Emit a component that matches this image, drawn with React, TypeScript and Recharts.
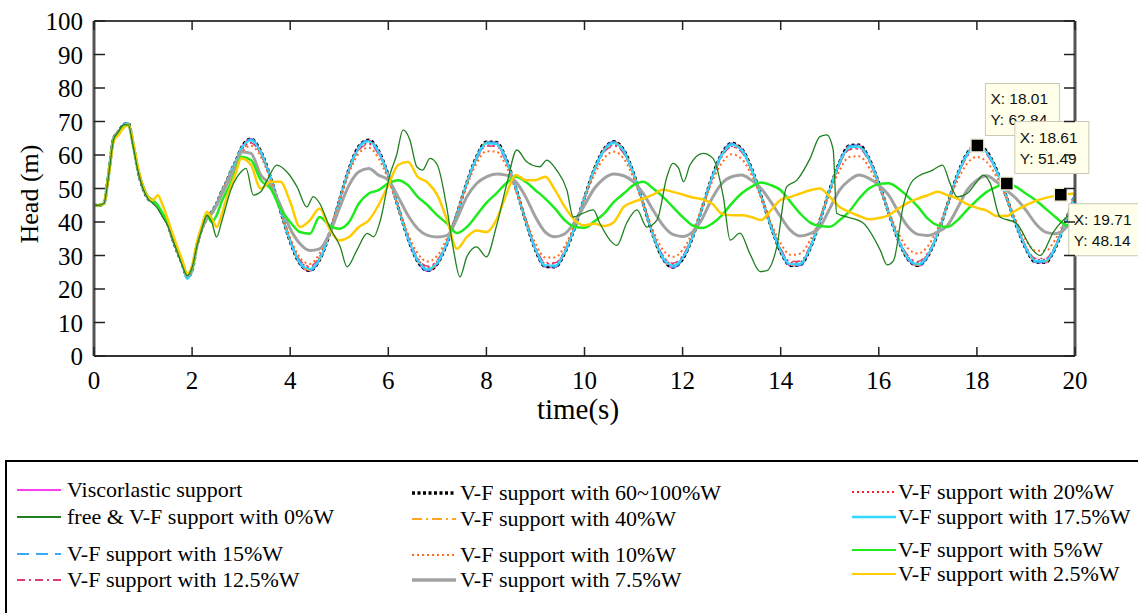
import React from "react";
import { LineChart, Line, XAxis, YAxis, ReferenceDot } from "recharts";

// ---------- data ----------
const time = [0,0.1,0.2,0.3,0.4,0.5,0.6,0.7,0.8,0.9,1,1.1,1.2,1.3,1.4,1.5,1.6,1.7,1.8,1.9,2,2.1,2.2,2.3,2.4,2.5,2.6,2.7,2.8,2.9,
  3,3.2,3.4,3.6,3.8,4,4.2,4.4,4.6,4.8,5,5.2,5.4,5.6,5.8,6,6.2,6.4,6.6,6.8,7,7.2,7.4,7.6,7.8,8,8.2,8.4,8.6,8.8,
  9,9.2,9.4,9.6,9.8,10,10.2,10.4,10.6,10.8,11,11.2,11.4,11.6,11.8,12,12.2,12.4,12.6,12.8,13,13.2,13.4,13.6,13.8,14,14.2,14.4,14.6,14.8,
  15,15.2,15.4,15.6,15.8,16,16.2,16.4,16.6,16.8,17,17.2,17.4,17.6,17.8,18,18.2,18.4,18.6,18.8,19,19.2,19.4,19.6,19.8,20];

const headVisco = [45,45,45.5,54.5,65,67,69,69.5,63,55,50,47,46,44.5,42,39.5,35,31,27.5,23.5,25.5,33,38,41,43,45.5,49,52,55.5,58.5,
  62,64.8,61.1,53.3,43.5,34.1,27.4,25.3,28.6,36.3,46.3,55.9,62.6,64.5,61.3,54,44.5,35.1,28.1,25.3,
  27.4,33.7,42.4,51.7,59.5,63.9,63.8,58.9,50.2,40.3,31.6,26.6,26.4,30.8,38.3,47.3,55.8,61.8,64,61.5,
  54.6,45.3,35.9,28.9,26.3,28.8,35.3,44.3,53.4,60.4,63.5,61.9,56.2,47.8,38.7,31,26.9,27,32.1,40.3,
  49.7,57.9,62.8,63,59,51.7,42.8,34.5,28.7,26.8,29.7,36.4,45.2,54,60.5,63,61.1,55.6,47.6,39.1,32,27.9,27.8,32.3,39.8,48.4];
const head60to100 = [45,45,45.5,54.5,65,67,69,69.5,63,55,50,47,46,44.5,42,39.5,35,31,27.5,23.5,25.5,33,38,41,43,45.5,49,52,55.5,58.5,
  62,64.8,61.1,53.3,43.5,34.1,27.5,25.5,28.7,36.3,46.3,55.9,62.6,64.5,61.3,54,44.5,35.1,28.2,25.5,
  27.5,33.7,42.4,51.7,59.5,63.9,63.8,58.9,50.2,40.3,31.6,26.7,26.6,30.8,38.3,47.3,55.8,61.8,64,61.5,
  54.6,45.3,35.9,29,26.5,28.9,35.3,44.3,53.4,60.4,63.5,61.9,56.2,47.8,38.7,31.1,27,27.2,32.1,40.3,
  49.7,57.9,62.8,63,59,51.7,42.8,34.5,28.8,27,29.8,36.4,45.2,54,60.5,63,61.1,55.6,47.6,39.1,32,28,28,32.3,39.8,48.4];
const head40 = [45,45,45.5,54.5,65,67,69,69.5,63,55,50,47,46,44.5,42,39.5,35,31,27.5,23.5,25.5,33,38,41,43,45.5,49,52,55.5,58.5,
  62,64.6,61.1,53.4,43.6,34.2,27.6,25.6,28.7,36.3,46.3,55.8,62.5,64.3,61.3,54,44.5,35.2,28.3,25.6,
  27.6,33.7,42.4,51.7,59.4,63.7,63.6,58.9,50.2,40.4,31.7,26.8,26.7,30.9,38.3,47.3,55.7,61.7,63.8,61.4,
  54.6,45.3,36,29.1,26.6,29,35.3,44.3,53.3,60.3,63.3,61.8,56.2,47.8,38.8,31.2,27.1,27.3,32.2,40.3,
  49.6,57.8,62.6,62.8,58.9,51.7,42.9,34.6,28.9,27.1,29.9,36.4,45.2,53.9,60.4,62.8,61,55.6,47.6,39.2,32.1,28.1,28.1,32.3,39.8,48.3];
const head20 = [45,45,45.5,54.5,64.8,66.8,68.8,69.2,63,55,50,47,46,44.5,42,39.5,35,31,27.6,23.7,25.6,33,38,41,43,45.5,49,52,55.3,58.3,
  61.2,63.8,60.3,52.9,43.6,34.6,28.4,26.5,29.5,36.7,46.2,55.4,61.7,63.5,60.5,53.6,44.5,35.6,29,26.5,
  28.4,34.3,42.5,51.4,58.8,63,62.9,58.2,49.9,40.5,32.3,27.6,27.5,31.5,38.6,47.2,55.3,61,63,60.7,
  54.1,45.3,36.4,29.8,27.4,29.7,35.8,44.3,53,59.6,62.6,61.1,55.6,47.7,39,31.8,27.9,28.1,32.7,40.5,
  49.5,57.3,61.9,62.1,58.3,51.4,42.9,35,29.6,27.9,30.6,36.8,45.2,53.6,59.7,62.1,60.3,55.1,47.5,39.4,32.6,28.8,28.8,32.9,40.1,48.2];
const head17_5 = [45,45,45.5,54.5,65,67,69,69.5,63,55,50,47,46,44.5,42,39.5,35,31,27.5,23,25.5,33,38,41,43,45.5,49,52,55.5,58.5,
  61.8,64.3,60.8,53.2,43.6,34.4,27.9,26,29,36.5,46.3,55.6,62.1,64,60.9,53.8,44.5,35.3,28.6,26,
  27.9,34,42.4,51.5,59.1,63.4,63.3,58.5,50,40.4,31.9,27.1,27,31.1,38.4,47.2,55.5,61.4,63.5,61.1,
  54.3,45.3,36.1,29.4,27,29.3,35.5,44.3,53.2,60,63,61.5,55.9,47.7,38.8,31.4,27.4,27.6,32.4,40.4,
  49.6,57.6,62.3,62.5,58.6,51.5,42.8,34.7,29.2,27.4,30.2,36.6,45.2,53.8,60.1,62.5,60.7,55.3,47.5,39.2,32.3,28.4,28.4,32.6,39.9,48.3];
const head15 = [45,45,45.5,54.5,65,67,69,69.5,63,55,50,47,46,44.5,42,39.5,35,31,27.5,23.5,25.5,33,38,41,43,45.5,49,52,55.5,58.5,
  62,64.7,61,53.3,43.5,34.1,27.5,25.5,28.7,36.3,46.3,55.9,62.5,64.4,61.2,54,44.5,35.1,28.2,25.5,
  27.5,33.7,42.4,51.7,59.5,63.8,63.7,58.9,50.2,40.3,31.6,26.7,26.6,30.8,38.3,47.3,55.8,61.7,63.9,61.4,
  54.6,45.3,35.9,29,26.5,28.9,35.3,44.3,53.4,60.4,63.4,61.8,56.2,47.8,38.7,31.1,27,27.2,32.1,40.3,
  49.7,57.9,62.7,62.9,59,51.7,42.8,34.5,28.8,27,29.8,36.4,45.2,54,60.4,62.9,61,55.6,47.6,39.1,32,28,28,32.3,39.8,48.4];
const head12_5 = [45,45,45.5,54.5,64.8,66.8,68.8,69.2,63,55,50,47,46,44.5,42,39.5,35,31,27.6,23.7,25.6,33,38,41,43,45.5,49,52,55.3,58.3,
  61,63.6,60.1,52.8,43.6,34.8,28.6,26.8,29.7,36.8,46.1,55.2,61.4,63.2,60.3,53.5,44.5,35.8,29.2,26.8,
  28.6,34.4,42.6,51.3,58.6,62.7,62.6,58,49.8,40.6,32.5,27.9,27.8,31.7,38.7,47.1,55.1,60.8,62.7,60.5,
  54,45.3,36.6,30,27.7,29.9,35.9,44.4,52.8,59.4,62.4,60.9,55.5,47.6,39.1,32,28.2,28.4,32.9,40.6,
  49.4,57.1,61.6,61.8,58.1,51.3,43,35.2,29.9,28.2,30.8,36.9,45.2,53.5,59.5,61.8,60.1,55,47.4,39.6,32.8,29.1,29.1,33.1,40.2,48.1];
const head10 = [45,45,45.5,54.5,64.5,66.5,68.5,69,63,55,50,47,46,44.5,42,39.5,35,31,27.8,24,25.8,33,38,41,43,45.5,48.8,51.8,55,58,
  60.5,62.8,59.5,52.5,43.6,35.2,29.3,27.5,30.7,37.3,46.1,54.6,60.5,62.2,59,52.7,44.6,36.5,30.6,28.2,
  30,35.3,42.8,50.8,57.5,61.1,61,56.8,49.4,41,33.6,29.4,29.4,32.9,39.3,46.9,54.1,59.1,61,58.9,
  53.1,45.3,37.4,31.7,29.6,31.6,36.9,44.5,52,57.6,60.2,58.9,54.2,47.3,39.8,33.6,30.2,30.6,34.6,41.2,
  48.8,55.4,59.4,59.6,56.3,50.4,43.2,36.6,32,30.6,32.8,38.1,45.2,52.2,57.4,59.4,57.9,53.5,47.1,40.3,34.6,31.4,31.4,34.8,40.8,47.7];
const head7_5 = [45,45,45.5,54.5,65,67,68.5,69,63,55.5,50.5,47.5,46.5,44.5,42,39.5,35.5,31.5,28,24,26,33,38,41,42.5,45,48,51,54,57,
  61,60.5,54,51,45,38,33.5,31.5,32,36.5,44,51,55,56,54,52.5,47.5,42,38,36,
  35.5,36,41,47.5,51.5,53.5,54.3,54,52,47.5,41.5,37,35.6,36.5,40,45,50,53,54.3,53.8,
  52,48.5,43.5,39,36.3,35.7,37,41,47,51.5,53.5,54,52.5,50,46,41.5,37.5,35.8,36.5,38.5,
  44,49.5,52.5,54,53,51,48,43,38.5,36.3,36,37,39,44,49.5,52.5,53.8,52,49.5,47,43.5,39.5,37,36.5,38,42];
const head5 = [45,45,45.5,54.5,64.5,66.5,68.5,69,63,55.5,50.5,47.5,46.5,45,42.5,40,36,32,28,24.5,26.5,33.5,38.5,42,40,42,46,49,52,55.5,
  59.5,58.5,52.5,50,44,40,37,36.5,41.5,39,38,40,45.5,48.5,49.5,51.5,52.5,51,47.5,45,
  42,39.5,36.7,38.5,42,45.7,48.5,51.5,53.5,52,49.5,47,44,40.5,38.5,38.3,40.2,42.5,46,48.5,
  51,52,50,47.5,44.5,41.5,39,38.2,39.5,42,45.5,48.5,50.5,51.8,51,49.5,46,42.5,39.8,38.8,
  38.6,40.5,43.2,47,50,51.3,51.6,50,47.5,44.5,41,39,38.5,40.5,43.6,46.5,49,50.5,51.5,50.5,48.5,46.5,44,41.5,39.2,38.5];
const head2_5 = [45,45,45.5,54,64,66,68,69,63.5,56,50.5,47.5,46.5,48,45,41,36.5,32.5,28.5,24.5,27,34,39,43,41,38.5,42,47,51,55,
  59,57,50,52,52,46,38.5,40.5,44,38,34.5,35.5,38.5,40.5,45,51,57,58,53.5,51.8,
  48,40.5,32,35.5,37.5,37,40.5,48,54,52.5,52.5,53.5,49.5,44.5,40.5,39,39.5,38.8,40,44.5,
  46,47,48.2,49.6,49,48.2,47.3,46.8,45.5,42.5,42,42,41.5,40.6,43.5,46.6,47.5,48.5,49.5,50,
  47.5,44.5,43,41.8,40.8,41.2,42,44,45.8,47,48,49,48,47,45.3,44.2,43.4,41.8,41.8,43.5,45,46.3,47.2,47.8,48.2,48.5];

// free & V-F support with 0%W, read at its own turning points
const time0 = [0,0.1,0.2,0.3,0.4,0.5,0.6,0.7,0.8,0.9,1,1.1,1.2,1.3,1.4,1.5,1.6,1.7,1.8,1.9,2,2.1,2.2,2.3,2.4,2.5,2.6,
  2.8,3,3.1,3.25,3.4,3.53,3.73,3.93,4.14,4.34,4.47,4.6,4.8,5.02,5.16,5.36,5.57,5.7,5.84,6.03,6.17,6.3,6.44,6.58,6.7,6.85,
  7,7.19,7.33,7.46,7.6,7.8,8,8.2,8.42,8.62,8.82,9.09,9.23,9.43,9.64,9.77,9.95,10.18,10.31,10.52,10.66,10.86,
  11.07,11.27,11.48,11.68,11.8,11.92,12.02,12.15,12.42,12.62,12.83,12.97,13.17,13.37,13.58,13.72,13.92,
  14.12,14.33,14.6,14.8,14.94,15.07,15.14,15.35,15.68,16.03,16.17,16.3,16.5,16.7,17.1,17.3,17.45,17.6,17.8,
  18,18.13,18.27,18.47,18.8,19.14,19.29,19.56,19.83,20];
const head0 = [45,45,45.5,54,64.5,67,69,69,62.5,55,50,47,45.5,44,41.5,39,35,31,27,24,26.5,33,38,42,40,35.5,40,
  50,55,56,48,49,52.5,57,55,50.5,44.5,47.6,45.6,38.6,32.6,26.6,31.6,36.6,35.6,40.6,54,60,67.5,64.5,56.5,55.5,59,
  57,44.5,31.6,23.6,29.6,32.6,29.6,38.5,51.6,61.5,58,56.5,58.5,55.5,49.6,41.5,42.5,43.6,39.7,34.6,33,39.7,
  43.6,38.5,40.6,53.5,57.5,56,52,57,60.5,59,47.5,34.6,36.7,30.6,25.2,25.5,32.6,
  50.5,52.5,59,65.5,66,61.5,42.6,41.5,39.7,31.6,27.2,28.5,45,52.5,55.5,57,51.6,47.5,48.5,
  52,54,51.6,41.5,39.7,31.6,30,37,41.5,43];

const xTicks = [0, 2, 4, 6, 8, 10, 12, 14, 16, 18, 20];
const yTicks = [0, 10, 20, 30, 40, 50, 60, 70, 80, 90, 100];

const tipX = [18.01, 18.61, 19.71];
const tipY = [62.84, 51.49, 48.14];

const legendLabels = [
  "Viscorlastic support",
  "free & V-F support with 0%W",
  "V-F support with 15%W",
  "V-F support with 12.5%W",
  "V-F support with 60~100%W",
  "V-F support with 40%W",
  "V-F support with 10%W",
  "V-F support with 7.5%W",
  "V-F support with 20%W",
  "V-F support with 17.5%W",
  "V-F support with 5%W",
  "V-F support with 2.5%W",
];

// ---------- styles ----------
type S = { key: string; label: string; t: number[]; v: number[]; color: string; w: number; dash?: string; legendW?: number };

const sv: Record<string, S> = {
  visco: { key: "visco", label: legendLabels[0], t: time, v: headVisco, color: "#FF3CF0", w: 1.6 },
  w0: { key: "w0", label: legendLabels[1], t: time0, v: head0, color: "#1E801E", w: 1.3 },
  w15: { key: "w15", label: legendLabels[2], t: time, v: head15, color: "#3AA8F8", w: 1.8, dash: "12 7" },
  w12: { key: "w12", label: legendLabels[3], t: time, v: head12_5, color: "#E03C74", w: 1.5, dash: "8 4 2 4" },
  w60: { key: "w60", label: legendLabels[4], t: time, v: head60to100, color: "#000000", w: 3, dash: "3 2.5", legendW: 3.5 },
  w40: { key: "w40", label: legendLabels[5], t: time, v: head40, color: "#FFA51E", w: 1.5, dash: "10 4 2 4" },
  w10: { key: "w10", label: legendLabels[6], t: time, v: head10, color: "#FF6A1E", w: 2, dash: "2 3" },
  w7: { key: "w7", label: legendLabels[7], t: time, v: head7_5, color: "#A2A2A2", w: 3, legendW: 3.5 },
  w20: { key: "w20", label: legendLabels[8], t: time, v: head20, color: "#FF1E1E", w: 1.5, dash: "2 3" },
  w17: { key: "w17", label: legendLabels[9], t: time, v: head17_5, color: "#2ED8FF", w: 2, legendW: 2.5 },
  w5: { key: "w5", label: legendLabels[10], t: time, v: head5, color: "#1EEB1E", w: 2.5, legendW: 2 },
  w2: { key: "w2", label: legendLabels[11], t: time, v: head2_5, color: "#FFCC00", w: 2.5, legendW: 2 },
};

const drawOrder = ["visco", "w60", "w40", "w20", "w12", "w15", "w17", "w10", "w7", "w5", "w2", "w0"];

const pts = (t: number[], v: number[]) => t.map((x, i) => ({ t: x, v: v[i] }));

const SERIF = "Liberation Serif, Tinos, Times New Roman, DejaVu Serif, serif";
const SANS = "Liberation Sans, Arimo, Arial, sans-serif";

const LeftTick = (p: any) => (
  <g>
    <line x1={p.x} x2={p.x + 11} y1={p.y} y2={p.y} stroke="#222" strokeWidth={1.5} />
    <text x={p.x - 11} y={p.y} dy="0.36em" textAnchor="end" style={{ fontFamily: SERIF, fontSize: 25 }} fill="#000">
      {p.payload.value}
    </text>
  </g>
);
const RightTick = (p: any) => (
  <line x1={p.x} x2={p.x - 11} y1={p.y} y2={p.y} stroke="#222" strokeWidth={1.5} />
);
const BottomTick = (p: any) => (
  <g>
    <line x1={p.x} x2={p.x} y1={p.y} y2={p.y - 9} stroke="#222" strokeWidth={1.5} />
    <text x={p.x} y={p.y + 33} textAnchor="middle" style={{ fontFamily: SERIF, fontSize: 25 }} fill="#000">
      {p.payload.value}
    </text>
  </g>
);
const TopTick = (p: any) => (
  <line x1={p.x} x2={p.x} y1={p.y} y2={p.y + 9} stroke="#222" strokeWidth={1.5} />
);

const makeTip = (i: number, below: boolean) => (p: any) => {
  const cx = p.cx;
  const cy = p.cy;
  const bx = cx + 8;
  const by = below ? cy + 9 : cy - 62;
  return (
    <g>
      <rect x={cx - 6.5} y={cy - 6.5} width={13} height={13} fill="#000" stroke="#F5F0D8" strokeWidth={1.5} />
      <rect x={bx} y={by} width={74} height={52} fill="#FFFFEA" stroke="#C9C9B5" strokeWidth={1} />
      <text x={bx + 5} y={by + 21} style={{ fontFamily: SANS, fontSize: 15.5 }} fill="#111">{"X: " + tipX[i].toFixed(2)}</text>
      <text x={bx + 5} y={by + 42} style={{ fontFamily: SANS, fontSize: 15.5 }} fill="#111">{"Y: " + tipY[i].toFixed(2)}</text>
    </g>
  );
};

const legendPos: Record<string, { x: number; tx: number; y: number }> = {
  visco: { x: 17, tx: 67, y: 490 },
  w0: { x: 17, tx: 67, y: 517 },
  w15: { x: 17, tx: 67, y: 554 },
  w12: { x: 17, tx: 67, y: 580 },
  w60: { x: 412, tx: 460, y: 493 },
  w40: { x: 412, tx: 460, y: 519 },
  w10: { x: 412, tx: 460, y: 555 },
  w7: { x: 412, tx: 460, y: 580 },
  w20: { x: 852, tx: 898, y: 492 },
  w17: { x: 852, tx: 898, y: 517 },
  w5: { x: 852, tx: 898, y: 550 },
  w2: { x: 852, tx: 898, y: 574 },
};

const legendOrder = ["visco", "w0", "w15", "w12", "w60", "w40", "w10", "w7", "w20", "w17", "w5", "w2"];

export default function App() {
  return (
    <div style={{ position: "absolute", left: 0, top: 0, width: 1138, height: 613, background: "#fff", overflow: "hidden", fontFamily: SERIF }}>
      <LineChart width={1138} height={460} margin={{ top: 20, right: 62, left: 0, bottom: 74 }}>
        <XAxis
          xAxisId={0}
          dataKey="t"
          type="number"
          domain={[0, 20]}
          ticks={xTicks}
          allowDataOverflow
          height={30}
          tickSize={0}
          tickMargin={0}
          tick={BottomTick}
          tickLine={false}
          axisLine={{ stroke: "#333", strokeWidth: 2 }}
        />
        <XAxis
          xAxisId="top"
          orientation="top"
          dataKey="t"
          type="number"
          domain={[0, 20]}
          ticks={xTicks}
          allowDataOverflow
          height={1}
          tickSize={0}
          tickMargin={0}
          tick={TopTick}
          tickLine={false}
          axisLine={{ stroke: "#000", strokeWidth: 1.5 }}
        />
        <YAxis
          yAxisId={0}
          type="number"
          domain={[0, 100]}
          ticks={yTicks}
          allowDataOverflow
          width={94}
          tickSize={0}
          tickMargin={0}
          tick={LeftTick}
          tickLine={false}
          axisLine={{ stroke: "#555", strokeWidth: 3 }}
        />
        <YAxis
          yAxisId="right"
          orientation="right"
          type="number"
          domain={[0, 100]}
          ticks={yTicks}
          allowDataOverflow
          width={1}
          tickSize={0}
          tickMargin={0}
          tick={RightTick}
          tickLine={false}
          axisLine={{ stroke: "#555", strokeWidth: 3 }}
        />
        {drawOrder.map((k) => {
          const s = sv[k];
          return (
            <Line
              key={k}
              data={pts(s.t, s.v)}
              dataKey="v"
              name={s.label}
              type="monotone"
              stroke={s.color}
              strokeWidth={s.w}
              strokeDasharray={s.dash}
              dot={false}
              activeDot={false}
              isAnimationActive={false}
            />
          );
        })}
        <ReferenceDot x={tipX[0]} y={tipY[0]} r={6} shape={makeTip(0, false)} />
        <ReferenceDot x={tipX[1]} y={tipY[1]} r={6} shape={makeTip(1, false)} />
        <ReferenceDot x={tipX[2]} y={tipY[2]} r={6} shape={makeTip(2, true)} />
      </LineChart>

      <div style={{ position: "absolute", left: 30, top: 194, transform: "translate(-50%, -50%) rotate(-90deg)", fontFamily: SERIF, fontSize: 26, whiteSpace: "nowrap", lineHeight: 1 }}>
        Head (m)
      </div>
      <div style={{ position: "absolute", left: 578, top: 409, transform: "translate(-50%, -50%)", fontFamily: SERIF, fontSize: 29, whiteSpace: "nowrap", lineHeight: 1 }}>
        time(s)
      </div>

      <div style={{ position: "absolute", left: 5, top: 460, width: 1150, height: 170, border: "2px solid #000", boxSizing: "border-box" }} />
      {legendOrder.map((k) => {
        const s = sv[k];
        const p = legendPos[k];
        return (
          <React.Fragment key={k}>
            <svg style={{ position: "absolute", left: p.x, top: p.y - 6 }} width={44} height={12}>
              <line x1={0} x2={44} y1={6} y2={6} stroke={s.color} strokeWidth={s.legendW ?? Math.max(s.w, 1.8)} strokeDasharray={s.dash} />
            </svg>
            <div style={{ position: "absolute", left: p.tx, top: p.y, transform: "translateY(-50%)", fontFamily: SERIF, fontSize: 22, whiteSpace: "nowrap", lineHeight: 1 }}>
              {s.label}
            </div>
          </React.Fragment>
        );
      })}
    </div>
  );
}
